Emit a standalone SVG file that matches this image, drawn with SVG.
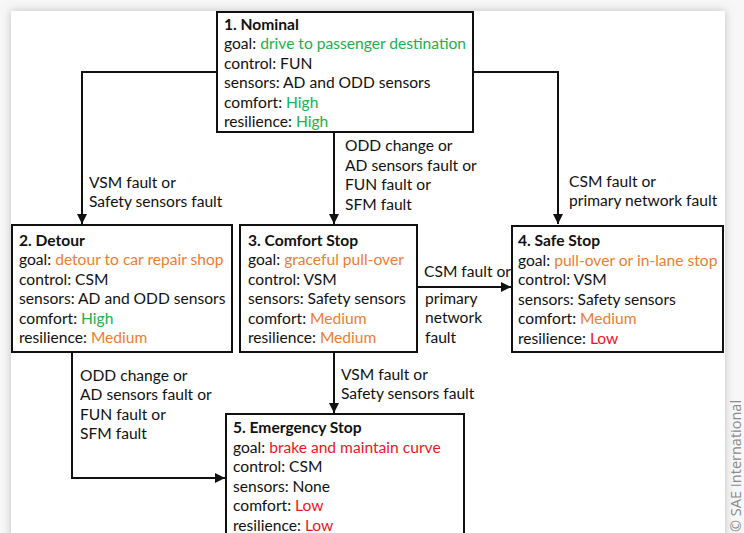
<svg xmlns="http://www.w3.org/2000/svg" width="744" height="533" viewBox="0 0 744 533">
<style>
text{font-family:Lato,"Open Sans","Liberation Sans",sans-serif;font-size:15.6px;fill:#111}
.t{font-weight:bold}
.g{fill:#22b04b}.o{fill:#ed7d31}.r{fill:#f0141e}
.box{fill:#fff;stroke:#111;stroke-width:2}
.ln{fill:none;stroke:#111;stroke-width:2}
</style>
<defs>
<filter id="sh" x="-5%" y="-5%" width="110%" height="110%">
<feDropShadow dx="0" dy="0" stdDeviation="4" flood-color="#b8b8bc" flood-opacity="0.9"/>
</filter>
<marker id="ah" viewBox="0 0 10 10" refX="10" refY="5" markerWidth="12" markerHeight="10" markerUnits="userSpaceOnUse" orient="auto">
<path d="M0,0 L10,5 L0,10 z" fill="#111"/>
</marker>
</defs>
<rect width="744" height="533" fill="#f7f7f8"/>
<rect x="11" y="11" width="714" height="540" fill="#fff" filter="url(#sh)"/>
<text x="741" y="532" transform="rotate(-90 741 532)" style="font-family:'Open Sans',sans-serif;font-size:14.5px;fill:#8a8a8a">© SAE International</text>

<g id="connectors">
<path class="ln" d="M217,72 H82 V224" marker-end="url(#ah)"/>
<path class="ln" d="M473,72 H558 V224" marker-end="url(#ah)"/>
<path class="ln" d="M334,132 V224" marker-end="url(#ah)"/>
<path class="ln" d="M417,287 H511" marker-end="url(#ah)"/>
<path class="ln" d="M334,352 V413" marker-end="url(#ah)"/>
<path class="ln" d="M72,352 V478 H225" marker-end="url(#ah)"/>
<text x="89" y="187.5">VSM fault or</text>
<text x="89" y="207">Safety sensors fault</text>
<text x="345" y="151">ODD change or</text>
<text x="345" y="170.5">AD sensors fault or</text>
<text x="345" y="190">FUN fault or</text>
<text x="345" y="209.5">SFM fault</text>
<text x="569" y="186.5">CSM fault or</text>
<text x="569" y="206">primary network fault</text>
<text x="424" y="277">CSM fault or</text>
<text x="425" y="303.5">primary</text>
<text x="425" y="323">network</text>
<text x="425" y="342.5">fault</text>
<text x="341" y="379.5">VSM fault or</text>
<text x="341" y="399">Safety sensors fault</text>
<text x="80" y="380.5">ODD change or</text>
<text x="80" y="400">AD sensors fault or</text>
<text x="80" y="419.5">FUN fault or</text>
<text x="80" y="439">SFM fault</text>
</g>

<g id="n1">
<rect class="box" x="217" y="12" width="256" height="120"/>
<text class="t" x="224" y="29.5">1. Nominal</text>
<text x="224" y="49">goal: <tspan class="g">drive to passenger destination</tspan></text>
<text x="224" y="68.5">control: FUN</text>
<text x="224" y="88">sensors: AD and ODD sensors</text>
<text x="224" y="107.5">comfort: <tspan class="g">High</tspan></text>
<text x="224" y="127">resilience: <tspan class="g">High</tspan></text>
</g>

<g id="n2">
<rect class="box" x="12" y="225" width="220" height="127"/>
<text class="t" x="19" y="245.5">2. Detour</text>
<text x="19" y="265">goal:  <tspan class="o">detour to car repair shop</tspan></text>
<text x="19" y="284.5">control: CSM</text>
<text x="19" y="304">sensors: AD and ODD sensors</text>
<text x="19" y="323.5">comfort: <tspan class="g">High</tspan></text>
<text x="19" y="343">resilience: <tspan class="o">Medium</tspan></text>
</g>

<g id="n3">
<rect class="box" x="240" y="225" width="177" height="127"/>
<text class="t" x="248" y="245.5">3. Comfort Stop</text>
<text x="248" y="265">goal: <tspan class="o">graceful pull-over</tspan></text>
<text x="248" y="284.5">control: VSM</text>
<text x="248" y="304">sensors: Safety sensors</text>
<text x="248" y="323.5">comfort: <tspan class="o">Medium</tspan></text>
<text x="248" y="343">resilience: <tspan class="o">Medium</tspan></text>
</g>

<g id="n4">
<rect class="box" x="512" y="226" width="211" height="126"/>
<text class="t" x="518" y="246">4. Safe Stop</text>
<text x="518" y="265.5">goal: <tspan class="o">pull-over or in-lane stop</tspan></text>
<text x="518" y="285">control: VSM</text>
<text x="518" y="304.5">sensors: Safety sensors</text>
<text x="518" y="324">comfort: <tspan class="o">Medium</tspan></text>
<text x="518" y="343.5">resilience:  <tspan class="r">Low</tspan></text>
</g>

<g id="n5">
<rect class="box" x="226" y="414" width="238" height="140"/>
<text class="t" x="233" y="433">5. Emergency Stop</text>
<text x="233" y="452.5">goal: <tspan class="r">brake and maintain curve</tspan></text>
<text x="233" y="472">control: CSM</text>
<text x="233" y="491.5">sensors: None</text>
<text x="233" y="511">comfort: <tspan class="r">Low</tspan></text>
<text x="233" y="530.5">resilience: <tspan class="r">Low</tspan></text>
</g>
</svg>
